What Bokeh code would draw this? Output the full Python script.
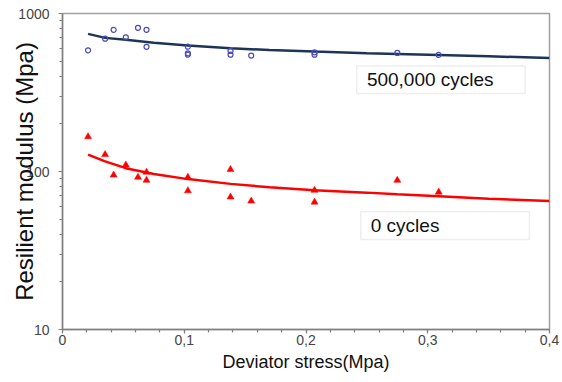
from bokeh.plotting import figure
from bokeh.models import Range1d, FixedTicker, Label, BoxAnnotation
from bokeh.embed import file_html
from bokeh.resources import INLINE

# ---- data ----
cyc500k_x = [0.021, 0.035, 0.042, 0.052, 0.062, 0.069, 0.069, 0.103, 0.103, 0.103,
             0.138, 0.138, 0.155, 0.207, 0.207, 0.275, 0.309]
cyc500k_y = [585, 693, 788, 707, 811, 788, 615, 617, 560, 549,
             580, 549, 542, 568, 549, 563, 547]

cyc0_x = [0.021, 0.035, 0.042, 0.052, 0.062, 0.069, 0.069, 0.103, 0.103,
          0.138, 0.138, 0.155, 0.207, 0.207, 0.275, 0.309]
cyc0_y = [166, 128, 95, 110, 92, 99, 88, 92, 75.5,
          103, 69, 65, 76, 64, 88, 74]

# trend lines
fit500k_x = [0.021, 0.035, 0.052, 0.075, 0.103, 0.138, 0.17, 0.207, 0.25, 0.275, 0.309, 0.35, 0.4]
fit500k_y = [743, 701, 681, 652, 627, 602, 587, 574, 561, 555, 547, 536, 523]
fit0_x = [0.021, 0.035, 0.052, 0.075, 0.103, 0.138, 0.17, 0.207, 0.25, 0.275, 0.309, 0.35, 0.4]
fit0_y = [128, 116, 105, 96.5, 89.5, 83.5, 79.5, 76, 73.5, 71.8, 69.7, 67.2, 65]

x_ticks = [0, 0.1, 0.2, 0.3, 0.4]
x_tick_labels = ["0", "0,1", "0,2", "0,3", "0,4"]
y_ticks = [10, 100, 1000]
y_tick_labels = ["10", "100", "1000"]

series_labels = ["500,000 cycles", "0 cycles"]
x_title = "Deviator stress(Mpa)"
y_title = "Resilient modulus (Mpa)"

FONT = "Liberation Sans"

p = figure(width=562, height=382, output_backend="svg", toolbar_location=None,
           x_range=Range1d(0, 0.4), y_range=Range1d(10, 1000), y_axis_type="log",
           min_border_left=62, min_border_right=13, min_border_top=13, min_border_bottom=53)

p.background_fill_color = "white"
p.border_fill_color = "white"
p.outline_line_color = "#a0a0a0"
p.outline_line_width = 1.5
p.xgrid.visible = False
p.ygrid.visible = False

# x axis
p.xaxis.ticker = FixedTicker(ticks=x_ticks,
                             minor_ticks=[i * 0.02 for i in range(21)])
p.xaxis.major_label_overrides = {t: l for t, l in zip(x_ticks, x_tick_labels)}
p.xaxis.axis_label = x_title
p.xaxis.axis_label_text_font = FONT
p.xaxis.axis_label_text_font_size = "18px"
p.xaxis.axis_label_text_font_style = "normal"
p.xaxis.axis_label_text_color = "#111111"
p.xaxis.axis_label_standoff = 4
p.xaxis.major_label_standoff = 1

# y axis
minor_y = [m * d for d in (10, 100) for m in range(2, 10)]
p.yaxis.ticker = FixedTicker(ticks=y_ticks, minor_ticks=minor_y)
p.yaxis.major_label_overrides = {t: l for t, l in zip(y_ticks, y_tick_labels)}
p.yaxis.major_label_standoff = 9
p.yaxis.axis_label = y_title
p.yaxis.axis_label_text_font = FONT
p.yaxis.axis_label_text_font_size = "24px"
p.yaxis.axis_label_text_font_style = "normal"
p.yaxis.axis_label_text_color = "#111111"
p.yaxis.axis_label_standoff = -23
p.yaxis.axis_label_align = "center"

for ax in (p.xaxis, p.yaxis):
    ax.axis_line_color = "#808080"
    ax.axis_line_width = 1.5
    ax.major_tick_line_color = "#808080"
    ax.minor_tick_line_color = "#808080"
    ax.major_tick_line_width = 1.2
    ax.minor_tick_line_width = 1.2
    ax.major_tick_out = 4
    ax.major_tick_in = 0
    ax.minor_tick_out = 3
    ax.minor_tick_in = 0
    ax.major_label_text_font = FONT
    ax.major_label_text_font_size = "14px"
    ax.major_label_text_color = "#444444"

# data
p.line(fit500k_x, fit500k_y, line_color="#1c3557", line_width=2.5)
p.scatter(cyc500k_x, cyc500k_y, marker="circle", size=5, fill_color=None,
          line_color="#4a4ab8", line_width=1.2)
p.line(fit0_x, fit0_y, line_color="#ff0000", line_width=2.5)
p.scatter(cyc0_x, cyc0_y, marker="triangle", size=7, fill_color="#ff0000",
          line_color="#ff0000", line_width=0.5)

# text boxes
p.add_layout(BoxAnnotation(left=0.2417, right=0.380, bottom=312, top=466,
                           fill_color="white", fill_alpha=1,
                           line_color="#c8c8c8", line_width=1.5, level="overlay"))
p.add_layout(Label(x=0.25, y=381, text=series_labels[0], text_align="left",
                   text_baseline="middle", text_font=FONT, text_font_size="19px",
                   text_color="#111111", level="overlay"))
p.add_layout(BoxAnnotation(left=0.245, right=0.3835, bottom=37.1, top=55.6,
                           fill_color="white", fill_alpha=1,
                           line_color="#c8c8c8", line_width=1.5, level="overlay"))
p.add_layout(Label(x=0.2532, y=45.4, text=series_labels[1], text_align="left",
                   text_baseline="middle", text_font=FONT, text_font_size="19px",
                   text_color="#111111", level="overlay"))

open("out.html", "w").write(file_html(p, INLINE))
